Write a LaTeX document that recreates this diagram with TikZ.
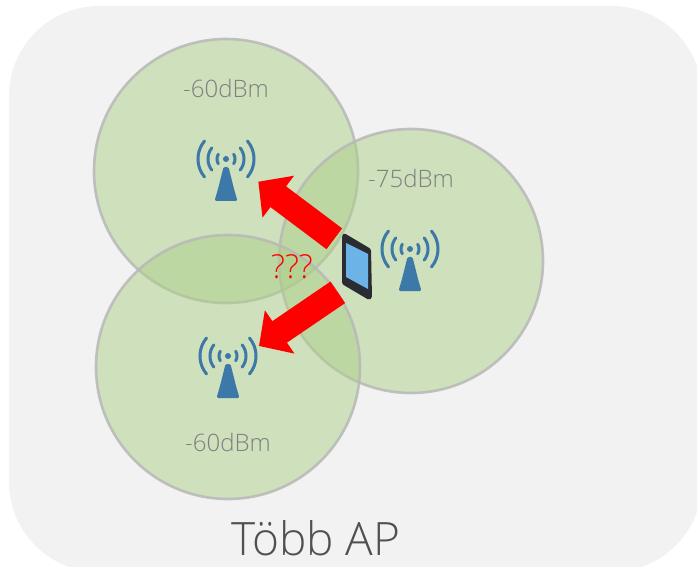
\documentclass[tikz,border=0pt]{standalone}
\usepackage{fontspec}
\setmainfont{Open Sans Light}
\usetikzlibrary{arrows.meta}
\definecolor{bgc}{HTML}{F2F2F2}
\definecolor{zone}{HTML}{ACCF88}
\definecolor{ring}{HTML}{B8B8B8}
\definecolor{ant}{HTML}{3C78A8}
\definecolor{lab}{HTML}{7F7F7F}
\definecolor{ttl}{HTML}{505050}
\definecolor{tabdark}{HTML}{2B2B33}
\definecolor{tabscr}{HTML}{6CB4E8}
\tikzset{
  cell/.style={circle,minimum size=264pt,inner sep=0pt,fill=zone,fill opacity=.5,draw=ring,draw opacity=.85,line width=2.6pt},
  dbm/.style={text=lab,font=\fontsize{24}{24}\selectfont,inner sep=0pt},
  redarrow/.style={draw=red,line width=26pt,-{Triangle[length=25pt,width=51pt,fill=red]}},
  wave/.style={draw=ant,line width=3pt,line cap=round,smooth},
  antenna/.pic={
    \fill[ant] (0,0) circle (3pt);
    \fill[ant,rounded corners=1.5pt] (-2.5,8) -- (2.5,8) -- (8,30) -- (11.5,42) -- (-11.5,42) -- (-8,30) -- cycle;
    \foreach \r/\a in {9/32,18/38,28/40}{
      \draw[wave] plot[domain=-\a:\a,samples=9] ({\r*cos(\x)},{\r*sin(\x)});
      \draw[wave] plot[domain=-\a:\a,samples=9] ({-\r*cos(\x)},{\r*sin(\x)});
    }
  }
}
\begin{document}
\begin{tikzpicture}[x=1pt,y=-1pt]
\useasboundingbox (0,0) rectangle (697,567);
\begin{scope}
\clip (0,0) rectangle (697,567);
\fill[bgc,rounded corners=90pt] (9,6) rectangle (702,572);
\end{scope}
\node[cell] (c1) at (226,171) {};
\node[cell] (c2) at (411,261) {};
\node[cell] (c3) at (228,367) {};
\pic at (226,159) {antenna};
\pic at (410,249) {antenna};
\pic at (228,356) {antenna};
\node[dbm] (l1) at (226,89) {-60dBm};
\node[dbm] (l2) at (411,179) {-75dBm};
\node[dbm] (l3) at (228,442) {-60dBm};
\coordinate (t1) at (334.3,238.8);
\coordinate (h1) at (258.3,181.7);
\coordinate (t2) at (337.8,292.3);
\coordinate (h2) at (259,346);
\draw[redarrow] (t1) -- (h1);
\draw[redarrow] (t2) -- (h2);
\node[text=red,font=\fontsize{33}{33}\selectfont,inner sep=0pt] (q) at (292,267) {???};
% tablet
\fill[tabdark,rounded corners=1.5pt] (344,233) -- (371,249) -- (372,298) -- (369,300) -- (342,284) -- (342,236) -- cycle;
\fill[tabscr] (346,243) -- (368,254) -- (368,289) -- (346,277) -- cycle;
\node[text=ttl,font=\fontsize{46}{46}\selectfont,inner sep=0pt] (title) at (316,538) {Több AP};
\end{tikzpicture}
\end{document}
